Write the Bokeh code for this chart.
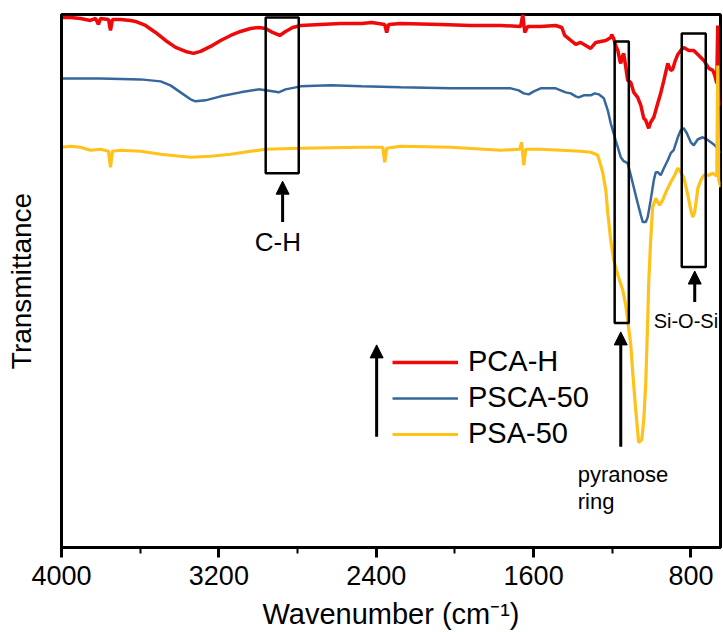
from bokeh.plotting import figure
from bokeh.models import (Range1d, SingleIntervalTicker, FixedTicker, Arrow, NormalHead,
                          Legend, LegendItem, Label)
from bokeh.embed import file_html
from bokeh.resources import INLINE

FONT = "Liberation Sans"

# ---- spectra: wavenumber (cm-1) and transmittance (arbitrary, offset units) ----
pca_h_wn = [4000, 3954, 3903, 3853, 3827, 3812, 3802, 3761, 3751, 3741, 3700, 3649, 3624,
            3573, 3522, 3471, 3420, 3369, 3329, 3293, 3242, 3191, 3140, 3090, 3039, 2998,
            2962, 2927, 2891, 2861, 2825, 2784, 2683, 2581, 2474, 2423, 2357, 2347, 2337,
            2276, 2072, 1920, 1767, 1666, 1655, 1645, 1630, 1564, 1488, 1457, 1442, 1411,
            1386, 1361, 1335, 1310, 1284, 1259, 1233, 1208, 1203, 1193, 1183, 1172, 1162,
            1157, 1147, 1142, 1132, 1122, 1106, 1091, 1071, 1055, 1040, 1030, 1015, 1005,
            989, 969, 954, 938, 918, 903, 893, 883, 867, 852, 837, 811, 786, 760, 735, 709,
            689, 679, 669, 664, 659, 649]
pca_h_t = [531, 531, 530, 528, 530, 524, 530, 529, 518, 529, 529, 528, 527,
           523, 516, 508, 501, 497, 495, 497, 502, 508, 513, 517, 520, 521,
           520, 516, 513, 517, 521, 523, 524, 525, 525, 526, 524, 516, 524,
           525, 524, 523, 523, 522, 534, 516, 522, 522, 523, 521, 513, 508,
           504, 506, 503, 500, 506, 507, 508, 511, 514, 510, 503, 498, 488,
           485, 493, 495, 482, 468, 466, 456, 451, 443, 430, 428, 420, 426,
           431, 445, 455, 468, 485, 478, 479, 486, 494, 498, 501, 498, 498, 493, 488, 480,
           478, 473, 465, 523, 443, 448]

psca_50_wn = [4000, 3802, 3598, 3496, 3446, 3395, 3344, 3319, 3268, 3191, 3090, 2998, 2962,
              2927, 2896, 2861, 2784, 2632, 2474, 2276, 2022, 1716, 1676, 1650, 1625, 1599,
              1564, 1488, 1437, 1411, 1386, 1371, 1345, 1310, 1289, 1269, 1243, 1223, 1208,
              1183, 1157, 1142, 1122, 1106, 1091, 1071, 1055, 1045, 1030, 1020, 1005, 989,
              979, 969, 954, 938, 918, 903, 888, 867, 852, 837, 821, 801, 786, 765, 740, 720,
              699, 679, 659, 649]
psca_50_t = [470, 470, 469, 467, 463, 456, 449, 447, 448, 452, 456, 459, 458,
             457, 456, 459, 462, 463, 462, 461, 460, 460, 458, 455, 454, 457,
             460, 460, 456, 455, 452, 451, 453, 453, 455, 454, 450, 438, 425,
             408, 391, 387, 385, 373, 361, 345, 333, 326, 326, 331, 348, 368,
             376, 376, 373, 380, 388, 395, 398, 411, 418, 420, 415, 406, 403, 409, 411, 409,
             406, 403, 398, 395]

psa_50_wn = [4000, 3954, 3903, 3853, 3802, 3761, 3751, 3741, 3700, 3598, 3496, 3395, 3344,
             3242, 3140, 3039, 2962, 2784, 2474, 2367, 2357, 2347, 2276, 2022, 1767, 1671,
             1661, 1650, 1640, 1564, 1462, 1361, 1310, 1284, 1274, 1259, 1248, 1233, 1223,
             1208, 1193, 1172, 1147, 1132, 1122, 1106, 1096, 1081, 1066, 1050, 1040, 1030,
             1020, 1015, 1005, 995, 979, 969, 959, 944, 923, 903, 883, 867, 852, 837, 816,
             801, 791, 781, 765, 750, 735, 709, 689, 669, 664, 659, 649]
psa_50_t = [401, 402, 401, 398, 399, 397, 381, 397, 398, 397, 394, 392, 391,
            392, 394, 397, 399, 400, 401, 401, 386, 400, 402, 401, 398, 399,
            406, 383, 399, 399, 398, 397, 396, 394, 393, 383, 375, 358, 335,
            308, 288, 273, 258, 243, 228, 203, 175, 138, 105, 108, 128, 165,
            228, 265, 308, 341, 350, 346, 343, 348, 358, 366, 373, 380, 376, 371, 353,
            338, 331, 336, 360, 368, 373, 373, 375, 372, 483, 368, 361]

series_labels = ["PCA-H", "PSCA-50", "PSA-50"]
series_colors = ["#EE0A0A", "#35679C", "#FFC21A"]

# ---- annotation boxes (wavenumber left/right, transmittance bottom/top) ----
box_names = ["C-H", "pyranose ring", "Si-O-Si"]
box_left = [2962, 1188, 847]
box_right = [2794, 1116, 725]
box_bottom = [375, 225, 281]
box_top = [531, 507, 515]

# ---- arrows (x, tail y, tip y) ----
arrow_x = [2876, 1157, 781, 2398]
arrow_y0 = [326, 101, 246, 111]
arrow_y1 = [367, 216, 277, 203]

x_ticks_interval = 800
x_title = "Wavenumber (cm\u207b\u00b9)"
y_title = "Transmittance"

p = figure(width=723, height=632, output_backend="svg", toolbar_location=None,
           x_range=Range1d(4000, 650), y_range=Range1d(0, 534),
           min_border_left=61, min_border_right=3, min_border_top=14, min_border_bottom=84)

p.xgrid.visible = False
p.ygrid.visible = False
p.outline_line_color = "black"
p.outline_line_width = 3
p.outline_line_alpha = 1
p.background_fill_color = "white"
p.border_fill_color = "white"

# x axis
xa = p.xaxis[0]
xa.ticker = SingleIntervalTicker(interval=x_ticks_interval, num_minor_ticks=2)
xa.axis_label = x_title
xa.axis_label_text_font = FONT
xa.axis_label_text_font_style = "normal"
xa.axis_label_text_font_size = "29px"
xa.axis_label_text_color = "black"
xa.axis_label_standoff = 10
xa.major_label_text_font = FONT
xa.major_label_text_font_size = "27px"
xa.major_label_text_color = "black"
xa.major_label_standoff = 8
xa.axis_line_width = 3
xa.axis_line_color = "black"
xa.major_tick_line_width = 3
xa.major_tick_line_color = "black"
xa.major_tick_in = 0
xa.major_tick_out = 10
xa.minor_tick_line_width = 2
xa.minor_tick_line_color = "black"
xa.minor_tick_in = 0
xa.minor_tick_out = 6

# y axis (no ticks, only the title)
ya = p.yaxis[0]
ya.ticker = FixedTicker(ticks=[])
ya.axis_label = y_title
ya.axis_label_text_font = FONT
ya.axis_label_text_font_style = "normal"
ya.axis_label_text_font_size = "28px"
ya.axis_label_text_color = "black"
ya.axis_label_standoff = 25
ya.major_label_standoff = 0
ya.major_tick_line_color = None
ya.minor_tick_line_color = None
ya.major_tick_out = 0
ya.minor_tick_out = 0
ya.axis_line_width = 3
ya.axis_line_color = "black"

# spectra
r1 = p.line(pca_h_wn, pca_h_t, line_color=series_colors[0], line_width=3.5)
r2 = p.line(psca_50_wn, psca_50_t, line_color=series_colors[1], line_width=2.5)
r3 = p.line(psa_50_wn, psa_50_t, line_color=series_colors[2], line_width=3.2)

# boxes
p.quad(left=box_left, right=box_right, bottom=box_bottom, top=box_top,
       fill_alpha=0, line_color="black", line_width=2.5)

# arrows
for x, y0, y1 in zip(arrow_x, arrow_y0, arrow_y1):
    p.add_layout(Arrow(x_start=x, y_start=y0, x_end=x, y_end=y1, line_width=3,
                       line_color="black",
                       end=NormalHead(size=13, fill_color="black", line_color="black",
                                      line_width=1)))

# texts
p.add_layout(Label(x=2900, y=306, text="C-H", text_font=FONT, text_font_size="26px",
                   text_color="black", text_align="center", text_baseline="middle"))
p.add_layout(Label(x=1376, y=73, text="pyranose", text_font=FONT, text_font_size="22px",
                   text_color="black", text_align="left", text_baseline="alphabetic"))
p.add_layout(Label(x=1376, y=46, text="ring", text_font=FONT, text_font_size="22px",
                   text_color="black", text_align="left", text_baseline="alphabetic"))
p.add_layout(Label(x=826, y=227, text="Si-O-Si", text_font=FONT, text_font_size="20px",
                   text_color="black", text_align="center", text_baseline="alphabetic"))

legend = Legend(items=[LegendItem(label=series_labels[0], renderers=[r1]),
                       LegendItem(label=series_labels[1], renderers=[r2]),
                       LegendItem(label=series_labels[2], renderers=[r3])],
                location=(331, 97), glyph_width=66, glyph_height=20,
                label_standoff=10, spacing=3, padding=0, margin=0,
                label_text_font=FONT, label_text_font_size="29px",
                label_text_color="black",
                border_line_alpha=0, background_fill_alpha=0)
p.add_layout(legend)

open("out.html", "w").write(file_html(p, INLINE))
